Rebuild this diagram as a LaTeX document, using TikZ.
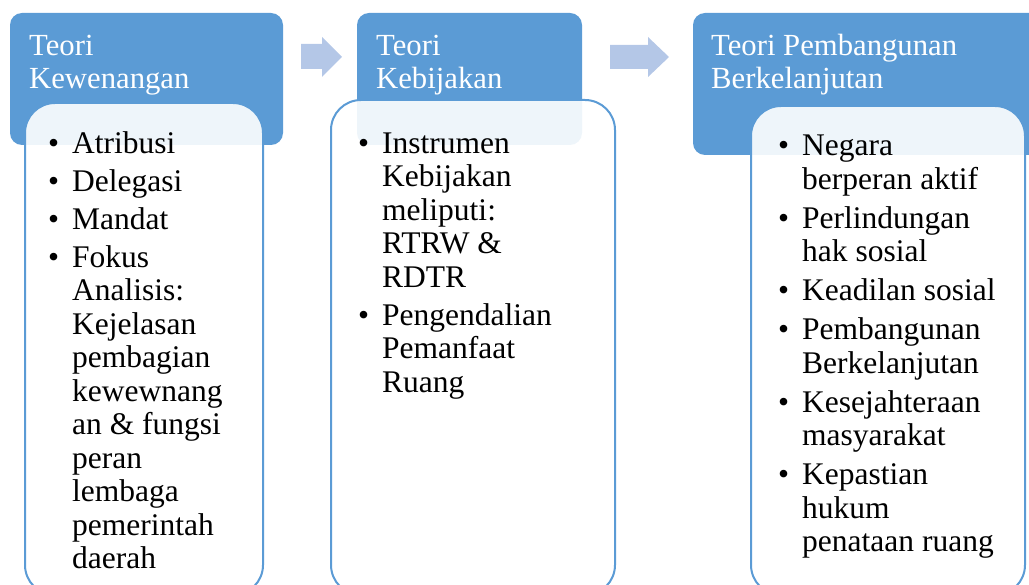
\documentclass[tikz,border=0pt]{standalone}
\usepackage{fontspec}
\setmainfont{Liberation Serif}

\definecolor{hdrblue}{HTML}{5B9BD5}
\definecolor{arrblue}{HTML}{B4C7E7}

\tikzset{
  hdr/.style={fill=hdrblue, rounded corners=12pt},
  bodybox/.style={draw=hdrblue, line width=2pt, fill=white, fill opacity=0.9, rounded corners=30pt},
  hdrtxt/.style={anchor=base west, inner sep=0pt, text=white, font=\fontsize{30.7}{33.5}\selectfont},
  listtxt/.style={anchor=base west, inner sep=0pt, font=\fontsize{31.5}{33.5}\selectfont},
  flowarrow/.style={fill=arrblue}
}
\newcommand{\itm}{\textbullet}
\newcommand{\gap}{\\[4.5pt]}
\newcommand{\biggap}{\\[5.5pt]}

\begin{document}
\begin{tikzpicture}[x=1pt,y=-1pt]

    \useasboundingbox (0,0) rectangle (1029,585);
    \clip (0,0) rectangle (1029,585);

    % headers
    \fill[hdr] (10,13) rectangle (283,145);
    \fill[hdr] (357,13) rectangle (582,145);
    \fill[hdr] (693,13) rectangle (1050,155);

    \fill[flowarrow] (301,44) -- (322,44) -- (322,37) -- (342,57) -- (322,77) -- (322,69) -- (301,69) -- cycle;
    \fill[flowarrow] (610,45) -- (648,45) -- (648,37) -- (669,57) -- (648,77) -- (648,69) -- (610,69) -- cycle;

    % bodies
    \draw[bodybox] (25,103) rectangle (263,595);
    \draw[bodybox] (331,100) rectangle (615,595);
    \draw[bodybox] (751,106) rectangle (1025,595);

    \node[hdrtxt] (h1) at (29,55.5) {\begin{tabular}[t]{@{}l@{}}Teori\\Kewenangan\end{tabular}};
    \node[hdrtxt] (h2) at (376,55.5) {\begin{tabular}[t]{@{}l@{}}Teori\\Kebijakan\end{tabular}};
    \node[hdrtxt] (h3) at (711,55.5) {\begin{tabular}[t]{@{}l@{}}Teori Pembangunan\\Berkelanjutan\end{tabular}};

    \node[listtxt] (l1) at (48,153.5) {\begin{tabular}[t]{@{}l@{\hspace{13pt}}l@{}}
      \itm & Atribusi\gap
      \itm & Delegasi\gap
      \itm & Mandat\gap
      \itm & Fokus\\
           & Analisis:\\
           & Kejelasan\\
           & pembagian\\
           & kewewnang\\
           & an \& fungsi\\
           & peran\\
           & lembaga\\
           & pemerintah\\
           & daerah
    \end{tabular}};

    \node[listtxt] (l2) at (358,153.5) {\begin{tabular}[t]{@{}l@{\hspace{13pt}}l@{}}
      \itm & Instrumen\\
           & Kebijakan\\
           & meliputi:\\
           & RTRW \&\\
           & RDTR\gap
      \itm & Pengendalian\\
           & Pemanfaat\\
           & Ruang
    \end{tabular}};

    \node[listtxt] (l3) at (778,156) {\begin{tabular}[t]{@{}l@{\hspace{13pt}}l@{}}
      \itm & Negara\\
           & berperan aktif\biggap
      \itm & Perlindungan\\
           & hak sosial\biggap
      \itm & Keadilan sosial\biggap
      \itm & Pembangunan\\
           & Berkelanjutan\biggap
      \itm & Kesejahteraan\\
           & masyarakat\biggap
      \itm & Kepastian\\
           & hukum\\
           & penataan ruang
    \end{tabular}};

\end{tikzpicture}
\end{document}
